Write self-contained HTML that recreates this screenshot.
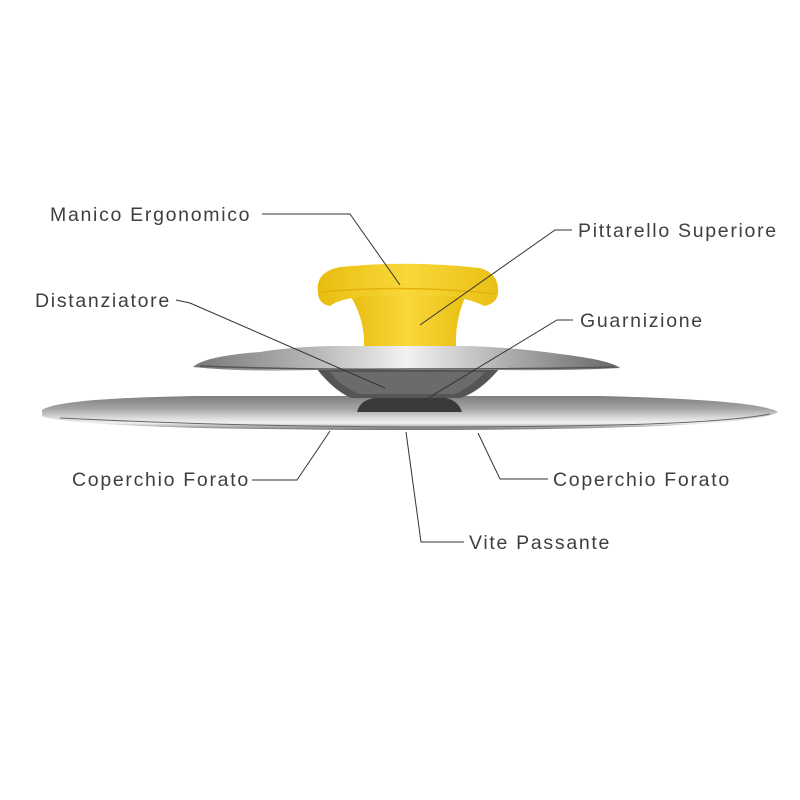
<!DOCTYPE html>
<html><head><style>
html,body{margin:0;padding:0;background:#fff;}
svg{display:block}
text{font-family:"Liberation Sans",sans-serif;font-size:19.5px;fill:#3f3f3f;letter-spacing:1.7px}
</style></head><body>
<svg width="800" height="800" viewBox="0 0 800 800">
<defs>
<linearGradient id="disc" x1="0" y1="0" x2="0" y2="1">
<stop offset="0" stop-color="#7e7e7e"/><stop offset="0.4" stop-color="#a8a8a8"/><stop offset="0.65" stop-color="#dcdcdc"/><stop offset="0.8" stop-color="#f0f0f0"/><stop offset="1" stop-color="#6e6e6e"/>
</linearGradient>
<linearGradient id="up" x1="0" y1="0" x2="1" y2="0">
<stop offset="0" stop-color="#777"/><stop offset="0.3" stop-color="#bbb"/><stop offset="0.5" stop-color="#f2f2f2"/><stop offset="0.75" stop-color="#aaa"/><stop offset="1" stop-color="#666"/>
</linearGradient>
<linearGradient id="knob" x1="0" y1="0" x2="1" y2="0">
<stop offset="0" stop-color="#e8bd10"/><stop offset="0.5" stop-color="#f9d83a"/><stop offset="1" stop-color="#e9bf14"/>
</linearGradient>
</defs>
<path d="M42,410 Q60,398 200,396 L600,396 Q760,400 778,412 Q760,424 600,428 Q420,432 200,428 Q60,424 42,416 Z" fill="url(#disc)"/>
<path d="M60,418 Q300,430 560,426 Q720,424 770,414" stroke="#666" stroke-width="1" fill="none"/>
<path d="M357,412 Q360,400 375,398 L445,398 Q458,400 462,412 Z" fill="#3a3a3a"/>
<path d="M316,368 L500,368 Q480,392 460,398 L352,398 Q335,392 316,368 Z" fill="#555"/>
<path d="M330,372 L485,372 Q470,388 455,394 L360,394 Q342,388 330,372Z" fill="#6b6b6b"/>
<path d="M193,367 Q205,356 260,352 Q290,347 330,346 L470,346 Q520,348 560,354 Q610,360 620,368 Q560,371 500,370 L316,370 Q240,372 193,367 Z" fill="url(#up)"/>
<path d="M200,366 Q300,370 410,369 Q540,369 615,367" stroke="#555" stroke-width="1.5" fill="none"/>
<path d="M350,295 L466,295 Q455,320 456,346 L364,346 Q365,320 350,295 Z" fill="url(#knob)"/>
<path d="M318,292 Q315,272 340,267 Q410,260 480,268 Q500,274 498,294 Q496,304 484,306 Q470,298 440,296 L370,296 Q340,298 330,306 Q318,304 318,292 Z" fill="url(#knob)"/>
<path d="M320,292 Q410,284 496,294" stroke="#e2b20a" stroke-width="1.5" fill="none"/>
<g stroke="#333" stroke-width="1" fill="none">
<polyline points="262,214 350,214 400,285"/>
<polyline points="572,230 555,230 420,325"/>
<polyline points="176,300 190,303 385,388"/>
<polyline points="573,320 557,320 420,403"/>
<polyline points="252,480 297,480 330,431"/>
<polyline points="548,479 500,479 478,433"/>
<polyline points="464,542 421,542 406,432"/>
</g>
<text x="50" y="221">Manico Ergonomico</text>
<text x="578" y="237">Pittarello Superiore</text>
<text x="35" y="307">Distanziatore</text>
<text x="580" y="327">Guarnizione</text>
<text x="72" y="486">Coperchio Forato</text>
<text x="553" y="486">Coperchio Forato</text>
<text x="469" y="549">Vite Passante</text>
</svg>
</body></html>
